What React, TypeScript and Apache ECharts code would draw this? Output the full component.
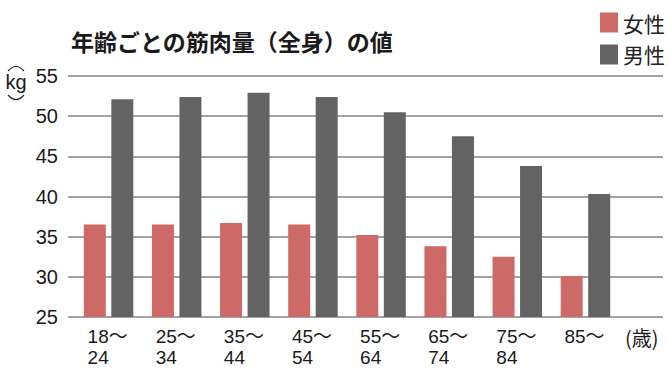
import React, { useEffect, useRef } from "react";
import * as echarts from "echarts";

const categories = ["18～\n24", "25～\n34", "35～\n44", "45～\n54", "55～\n64", "65～\n74", "75～\n84", "85～"];
const female = [36.5, 36.5, 36.7, 36.5, 35.2, 33.8, 32.5, 30.1];
const male = [52.1, 52.4, 52.9, 52.4, 50.5, 47.5, 43.8, 40.3];
const yTicks = { min: 25, max: 55, interval: 5 };

const FONT = '"Liberation Sans", Arial, "Noto Sans CJK JP", sans-serif';
const JP = '"Noto Sans CJK JP", sans-serif';

export default function App() {
  const ref = useRef<HTMLDivElement>(null);
  useEffect(() => {
    if (!ref.current) return;
    const chart = echarts.init(ref.current, undefined, { renderer: "svg" });
    chart.setOption({
      animation: false,
      backgroundColor: "#ffffff",
      textStyle: { fontFamily: FONT },
      title: {
        text: "年齢ごとの筋肉量（全身）の値",
        left: 66,
        top: 24,
        textStyle: { fontFamily: JP, fontSize: 23, fontWeight: "bold", color: "#1a1a1a" },
      },
      legend: {
        data: ["女性", "男性"],
        orient: "vertical",
        left: 600,
        top: 12,
        itemWidth: 18,
        itemHeight: 20,
        itemGap: 11,
        padding: 0,
        icon: "rect",
        textStyle: { fontFamily: JP, fontSize: 21, color: "#222" },
      },
      grid: [
        { left: 68, right: 7, top: 76, bottom: 59 },
        { left: 74.5, width: 545, top: 76, bottom: 59 },
      ],
      xAxis: [
        { gridIndex: 0, type: "value", show: false },
        {
          gridIndex: 1,
          type: "category",
          data: categories,
          axisLine: { show: false },
          axisTick: { show: false },
          axisLabel: {
            margin: 9,
            interval: 0,
            formatter: (v: string) => v.split("\n").map((s) => `{a|${s}}`).join("\n"),
            rich: { a: { width: 42, align: "left", fontSize: 19, lineHeight: 21, color: "#1a1a1a", fontFamily: FONT } },
          },
        },
      ],
      yAxis: [
        {
          gridIndex: 0,
          type: "value",
          min: yTicks.min,
          max: yTicks.max,
          interval: yTicks.interval,
          axisLine: { show: false },
          axisTick: { show: false },
          axisLabel: { fontSize: 20, color: "#1a1a1a", margin: 10, fontFamily: FONT },
          splitLine: { lineStyle: { color: "#858585", width: 1.5 } },
        },
        { gridIndex: 1, type: "value", min: yTicks.min, max: yTicks.max, show: false },
      ],
      series: [
        {
          name: "女性",
          type: "bar",
          xAxisIndex: 1,
          yAxisIndex: 1,
          data: female,
          barWidth: 22,
          barGap: "25%",
          itemStyle: { color: "#cd6967" },
        },
        {
          name: "男性",
          type: "bar",
          xAxisIndex: 1,
          yAxisIndex: 1,
          data: male,
          barWidth: 22,
          itemStyle: { color: "#636363" },
        },
      ],
      graphic: [
        {
          type: "bezierCurve",
          shape: { x1: 8, y1: 71, x2: 24, y2: 71, cpx1: 16, cpy1: 62 },
          style: { stroke: "#222", lineWidth: 1.2, fill: null },
        },
        {
          type: "bezierCurve",
          shape: { x1: 8, y1: 95, x2: 24, y2: 95, cpx1: 16, cpy1: 104 },
          style: { stroke: "#222", lineWidth: 1.2, fill: null },
        },
        { type: "text", x: 16, y: 82, style: { text: "kg", fontSize: 20, fill: "#1a1a1a", fontFamily: FONT, align: "center", verticalAlign: "middle" } },
        { type: "text", left: 625, top: 327, style: { text: "(歳)", fontSize: 20, fill: "#1a1a1a", fontFamily: JP } },
      ],
    });
    return () => chart.dispose();
  }, []);
  return <div ref={ref} style={{ width: 670, height: 376, position: "absolute", left: 0, top: 0 }} />;
}
